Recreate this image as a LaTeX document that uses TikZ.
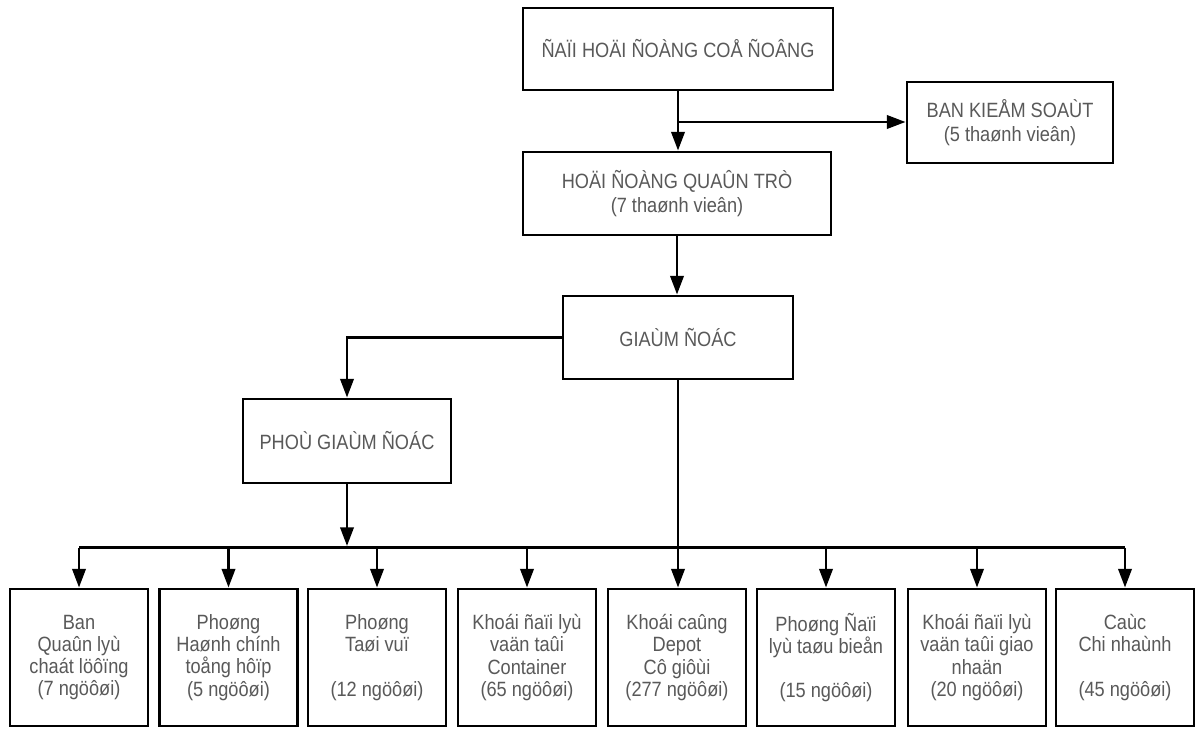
\documentclass[tikz,border=0pt]{standalone}
\usepackage{fontspec}
\setmainfont{Liberation Sans}[FakeStretch=0.88]
\usetikzlibrary{arrows.meta}
\definecolor{txtgray}{gray}{0.35}
\tikzset{
  box/.style={draw=black, line width=2.2pt, fill=white, align=center, inner sep=0pt,
    text=txtgray, font=\fontsize{15.5}{17.5}\selectfont},
  bbox/.style={box, minimum width=103.5pt, minimum height=102.75pt,
    font=\fontsize{15.5}{16.6}\selectfont},
  conn/.style={line width=2pt, draw=black},
  arr/.style={conn, -{Triangle[length=14pt, width=10pt]}},
}
\begin{document}
\begin{tikzpicture}[x=0.75pt, y=-0.75pt]
\useasboundingbox (0,0) rectangle (1195,728);

\node[box, minimum width=232.5pt, minimum height=61.5pt] (dhcd) at (678,49) {ÑAÏI HOÄI ÑOÀNG COÅ ÑOÂNG};
\node[box, minimum width=154.5pt, minimum height=60.75pt] (bks) at (1010,122.5) {BAN KIEÅM SOAÙT\\(5 thaønh vieân)};
\node[box, minimum width=231pt, minimum height=62.25pt] (hdqt) at (677,193.5) {HOÄI ÑOÀNG QUAÛN TRÒ\\(7 thaønh vieân)};
\node[box, minimum width=172.5pt, minimum height=62.25pt] (gd) at (678,337.5) {GIAÙM ÑOÁC};
\node[box, minimum width=156pt, minimum height=63pt] (pgd) at (347,441) {PHOÙ GIAÙM ÑOÁC};

\node[bbox] (b1) at (79,657.5) {Ban\\Quaûn lyù\\chaát löôïng\\(7 ngöôøi)};
\node[bbox] (b2) at (228.5,657.5) {Phoøng\\Haønh chính\\toång hôïp\\(5 ngöôøi)};
\node[bbox] (b3) at (377,657.5) {Phoøng\\Taøi vuï\\\mbox{}\\(12 ngöôøi)};
\node[bbox] (b4) at (527,657.5) {Khoái ñaïi lyù\\vaän taûi\\Container\\(65 ngöôøi)};
\node[bbox] (b5) at (677,657.5) {Khoái caûng\\Depot\\Cô giôùi\\(277 ngöôøi)};
\node[bbox] (b6) at (826,657.5) {Phoøng Ñaïi\\lyù taøu bieån\\\mbox{}\\(15 ngöôøi)};
\node[bbox] (b7) at (977,657.5) {Khoái ñaïi lyù\\vaän taûi giao\\nhaän\\(20 ngöôøi)};
\node[bbox] (b8) at (1125,657.5) {Caùc\\Chi nhaùnh\\\mbox{}\\(45 ngöôøi)};

\coordinate (br) at (678,122);
\coordinate (bus) at (0,547.5);
\coordinate (bustop) at (0,546);

\draw[arr] (dhcd.south) -- (dhcd.south |- hdqt.north);
\draw[arr] (br) -- (br -| bks.west);
\draw[arr] (hdqt.south) -- (hdqt.south |- gd.north);
\draw[arr] (gd.west) -| (pgd.north);
\draw[arr] (pgd.south) -- (pgd.south |- bustop);
\draw[conn] (b1.north |- bus) -- (b8.north |- bus);
\draw[arr] (gd.south) -- (gd.south |- b5.north);
\foreach \b in {b1,b2,b3,b4,b6,b7,b8}{
  \draw[arr] (\b.north |- bus) -- (\b.north);
}
\end{tikzpicture}
\end{document}
